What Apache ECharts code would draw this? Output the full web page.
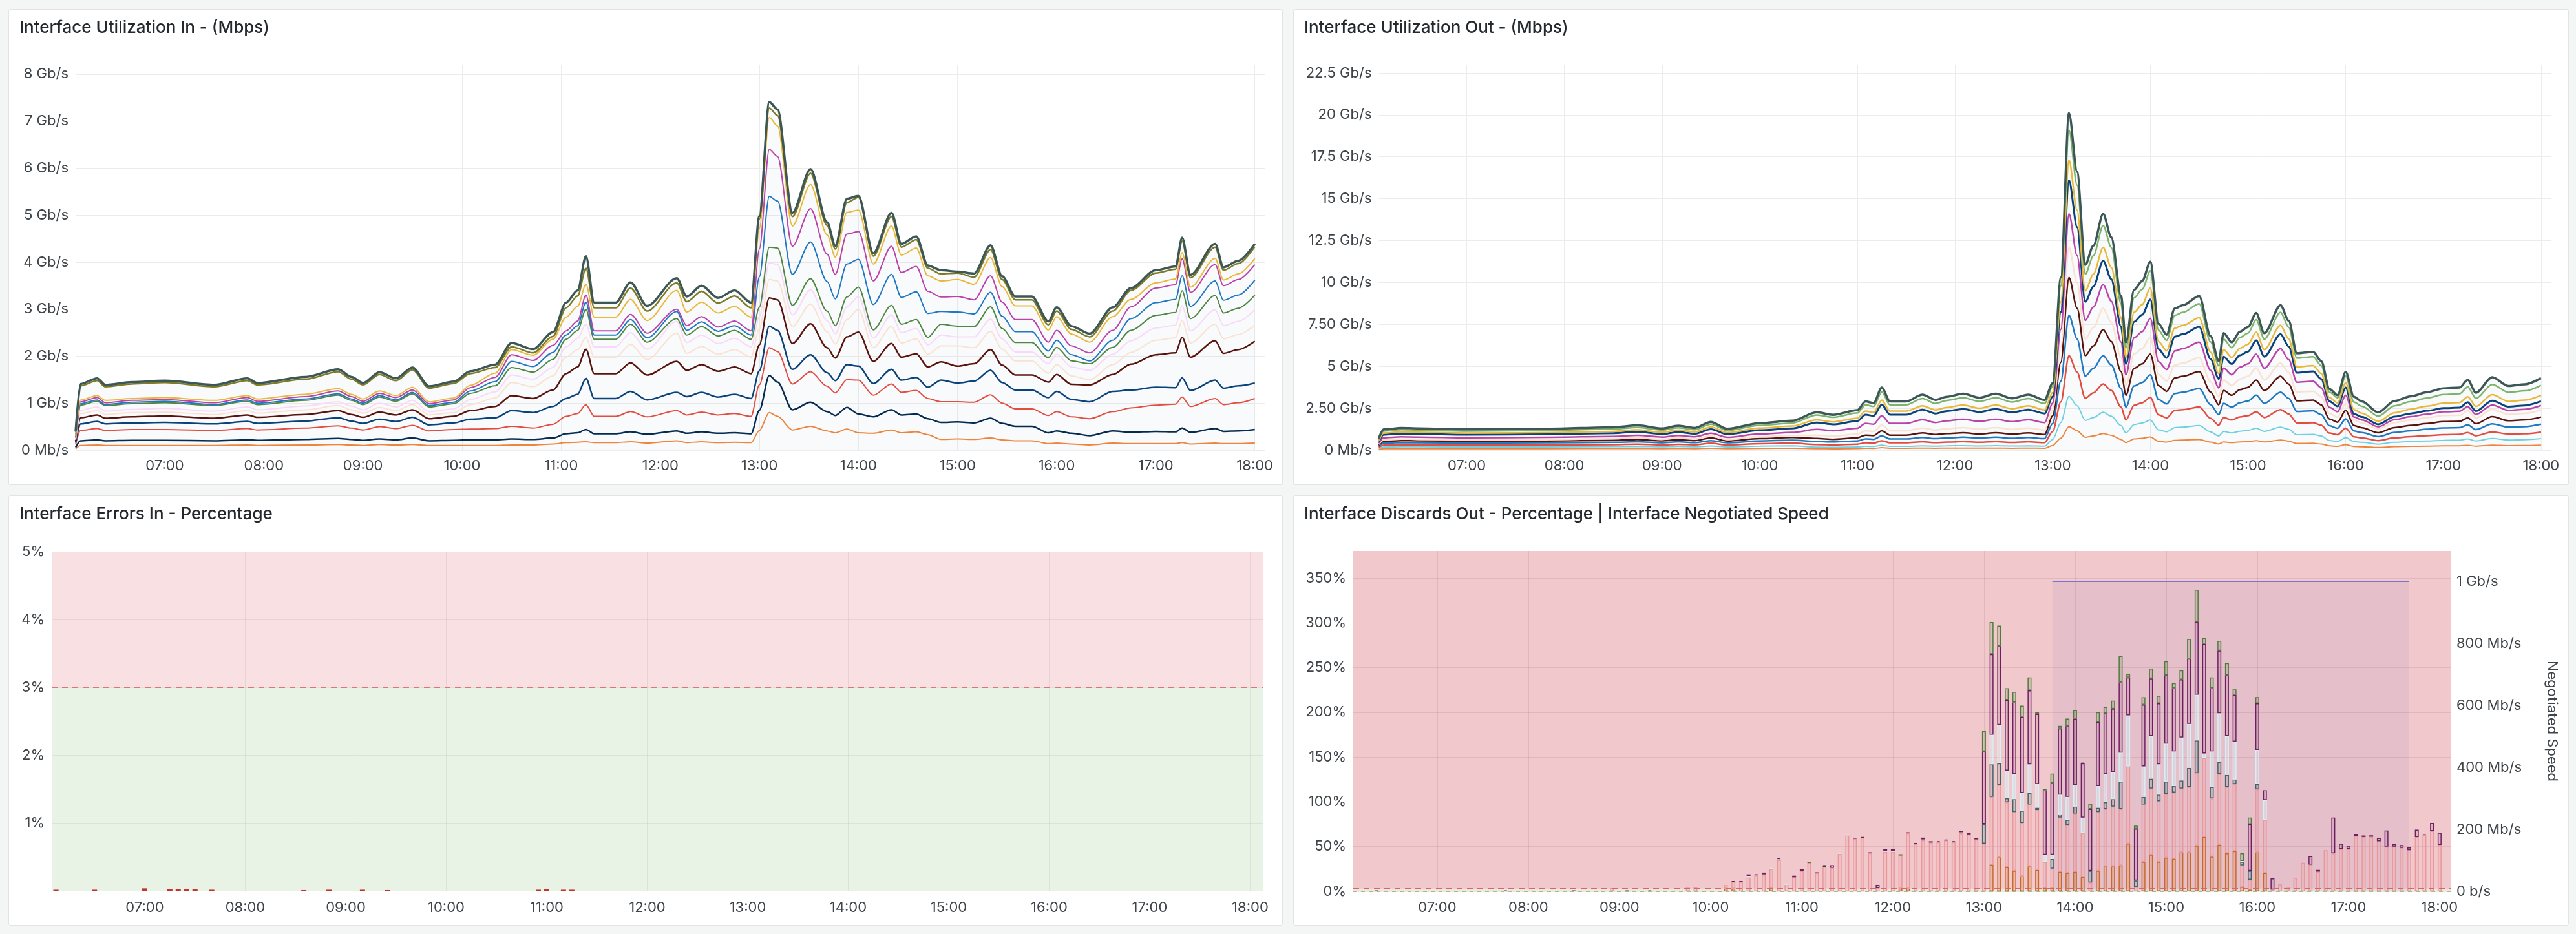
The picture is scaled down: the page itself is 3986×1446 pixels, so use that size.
<!DOCTYPE html>
<html>
<head>
<meta charset="utf-8">
<script src="https://cdn.jsdelivr.net/npm/echarts@6/dist/echarts.min.js"></script>
<style>
  html, body { margin: 0; padding: 0; background: #f4f5f5; width: 3986px; height: 1446px; overflow: hidden; font-family: Inter, "Noto Sans", sans-serif; }
  .panel { position: absolute; background: #fff; border: 1px solid #e1e3e6; border-radius: 3px; box-sizing: border-box; }
  .title { position: absolute; left: 16px; top: 11px; font-size: 26px; font-weight: 500; color: #24292e; line-height: 32px; white-space: nowrap; }
  .chart { position: absolute; left: 0; top: 0; width: 100%; height: 100%; }
</style>
</head>
<body>
<div class="panel" style="left:13px;top:14px;width:1972px;height:737px">
  <div class="chart" id="chartIn"></div>
  <div class="title">Interface Utilization In - (Mbps)</div>
</div>
<div class="panel" style="left:2001px;top:14px;width:1974px;height:737px">
  <div class="chart" id="chartOut"></div>
  <div class="title">Interface Utilization Out - (Mbps)</div>
</div>
<div class="panel" style="left:13px;top:767px;width:1972px;height:666px">
  <div class="chart" id="chartErr"></div>
  <div class="title">Interface Errors In - Percentage</div>
</div>
<div class="panel" style="left:2001px;top:767px;width:1974px;height:666px">
  <div class="chart" id="chartDisc"></div>
  <div class="title">Interface Discards Out - Percentage | Interface Negotiated Speed</div>
</div>
<script>
// ---- Interface Utilization In (Gb/s, stacked levels as drawn) ----
const inTimes = ['06:06','06:09','06:19','06:24','06:40','07:00','07:30','07:50','07:56','08:25',
  '08:45','08:53','09:00','09:10','09:20','09:30','09:40','09:55','10:05','10:20',
  '10:30','10:43','10:55','11:03','11:10','11:15','11:20','11:33','11:42','11:52',
  '12:10','12:16','12:25','12:35','12:45','12:55','13:00','13:06','13:11','13:20',
  '13:31','13:41','13:46','13:53','14:00','14:09','14:20','14:26','14:35','14:42',
  '14:50','15:00','15:10','15:20','15:27','15:35','15:45','15:55','16:00','16:09',
  '16:20','16:34','16:45','17:00','17:12','17:16','17:21','17:36','17:41','17:50',
  '18:00'];
const inA = [.40,1.41,1.53,1.39,1.45,1.48,1.39,1.53,1.43,1.56,
  1.72,1.56,1.43,1.66,1.53,1.76,1.36,1.46,1.68,1.82,
  2.28,2.15,2.51,3.14,3.40,4.13,3.14,3.14,3.57,3.07,
  3.66,3.27,3.50,3.24,3.40,3.14,4.98,7.41,7.25,5.05,
  5.98,4.85,4.35,5.35,5.41,4.19,5.05,4.39,4.55,3.93,
  3.83,3.80,3.76,4.36,3.70,3.27,3.27,2.74,3.04,2.64,
  2.48,3.04,3.45,3.83,3.91,4.52,3.73,4.39,3.89,4.03,
  4.39];
const inB = [.39,1.37,1.48,1.35,1.41,1.44,1.35,1.48,1.39,1.51,
  1.67,1.51,1.39,1.61,1.48,1.71,1.32,1.42,1.63,1.76,
  2.20,2.07,2.42,3.03,3.28,3.87,3.03,3.03,3.45,2.96,
  3.56,3.16,3.38,3.13,3.28,3.03,4.91,7.28,7.12,4.97,
  5.89,4.78,4.28,5.27,5.38,4.13,4.97,4.32,4.48,3.87,
  3.75,3.77,3.68,4.27,3.63,3.20,3.20,2.67,2.96,2.57,
  2.41,2.96,3.40,3.77,3.85,4.45,3.67,4.32,3.83,3.97,
  4.33];
const inC = [.30,1.07,1.16,1.06,1.10,1.12,1.06,1.16,1.09,1.19,
  1.31,1.19,1.09,1.26,1.16,1.34,1.03,1.11,1.38,1.64,
  2.14,2.02,2.36,2.83,3.06,3.53,2.83,2.83,3.21,2.76,
  3.40,2.94,3.15,2.92,3.06,2.83,4.71,7.08,6.90,4.77,
  5.65,4.58,4.11,5.06,5.11,3.96,4.77,4.15,4.30,3.71,
  3.60,3.63,3.53,4.10,3.48,3.07,3.07,2.56,2.84,2.47,
  2.30,2.84,3.21,3.56,3.64,4.20,3.47,4.08,3.62,3.75,
  4.08];
const inD = [.29,1.03,1.12,1.01,1.06,1.08,1.01,1.12,1.04,1.14,
  1.26,1.14,1.04,1.21,1.12,1.28,.99,1.07,1.33,1.55,
  2.03,1.91,2.23,2.54,2.75,3.30,2.54,2.54,2.89,2.49,
  3.00,2.65,2.84,2.62,2.75,2.54,4.28,6.40,6.25,4.34,
  5.14,4.17,3.74,4.60,4.65,3.60,4.34,3.78,3.91,3.38,
  3.26,3.27,3.20,3.71,3.15,2.78,2.78,2.30,2.55,2.22,
  2.07,2.55,3.05,3.45,3.52,4.07,3.36,3.95,3.50,3.63,
  3.95];
const inE = [.28,.99,1.07,.97,1.02,1.04,.97,1.07,1.00,1.09,
  1.20,1.09,1.00,1.16,1.07,1.23,.95,1.02,1.26,1.46,
  1.89,1.78,2.08,2.45,2.65,3.15,2.45,2.45,2.78,2.39,
  2.95,2.55,2.73,2.53,2.65,2.45,3.69,5.40,5.30,3.74,
  4.43,3.59,3.22,3.96,4.06,3.10,3.74,3.25,3.37,2.91,
  2.95,2.94,2.90,3.36,2.85,2.52,2.52,2.11,2.34,2.03,
  1.90,2.34,2.80,3.14,3.21,3.71,3.06,3.60,3.19,3.30,
  3.62];
const inG = [.27,.96,1.04,.95,.99,1.01,.95,1.04,.97,1.06,
  1.17,1.06,.97,1.13,1.04,1.20,.92,.99,1.21,1.37,
  1.76,1.66,1.93,2.36,2.55,3.00,2.36,2.36,2.68,2.30,
  2.80,2.45,2.63,2.43,2.55,2.36,3.04,4.32,4.30,3.08,
  3.65,2.96,2.65,3.26,3.47,2.56,3.08,2.68,2.78,2.40,
  2.68,2.64,2.63,3.05,2.59,2.29,2.29,1.97,2.19,1.90,
  1.84,2.19,2.55,2.87,2.93,3.39,2.80,3.29,2.92,3.02,
  3.30];
const inH = [.24,.85,.92,.83,.87,.89,.83,.92,.86,.94,
  1.03,.94,.86,1.00,.92,1.06,.82,.88,1.08,1.24,
  1.60,1.51,1.76,2.20,2.38,2.68,2.20,2.20,2.50,2.15,
  2.74,2.29,2.45,2.27,2.38,2.20,2.84,3.99,3.95,2.88,
  3.41,2.76,2.48,3.05,3.27,2.39,2.88,2.50,2.59,2.24,
  2.45,2.41,2.41,2.79,2.37,2.09,2.09,1.84,2.04,1.77,
  1.70,2.04,2.33,2.60,2.66,3.07,2.54,2.99,2.65,2.74,
  2.99];
const inI = [.22,.78,.84,.76,.80,.81,.76,.84,.79,.86,
  .95,.86,.79,.91,.84,.97,.75,.80,.97,1.11,
  1.44,1.35,1.58,1.98,2.14,2.40,1.98,1.98,2.25,1.93,
  2.49,2.06,2.21,2.04,2.14,1.98,2.59,3.63,3.60,2.63,
  3.11,2.52,2.26,2.78,3.00,2.18,2.63,2.28,2.37,2.04,
  2.22,2.22,2.18,2.53,2.15,1.90,1.90,1.64,1.82,1.58,
  1.50,1.82,2.08,2.34,2.39,2.76,2.28,2.68,2.37,2.46,
  2.66];
const inK = [.20,.69,.75,.68,.71,.73,.68,.75,.70,.76,
  .84,.76,.70,.81,.75,.86,.67,.72,.84,.93,
  1.16,1.10,1.28,1.63,1.77,2.15,1.63,1.63,1.86,1.60,
  1.89,1.70,1.82,1.68,1.77,1.63,2.24,3.24,3.20,2.27,
  2.69,2.18,1.96,2.41,2.51,1.89,2.27,1.98,2.05,1.77,
  1.88,1.79,1.84,2.14,1.81,1.60,1.60,1.45,1.61,1.40,
  1.39,1.61,1.83,2.03,2.07,2.40,1.98,2.33,2.06,2.14,
  2.32];
const inM = [.16,.56,.61,.56,.58,.59,.56,.61,.57,.62,
  .69,.62,.57,.66,.61,.70,.54,.58,.66,.69,
  .84,.80,.93,1.10,1.19,1.53,1.10,1.10,1.25,1.07,
  1.23,1.14,1.23,1.13,1.19,1.10,1.69,2.64,2.55,1.72,
  2.03,1.65,1.48,1.82,1.79,1.42,1.72,1.49,1.55,1.34,
  1.49,1.43,1.47,1.70,1.44,1.28,1.28,1.12,1.25,1.08,
  1.03,1.25,1.28,1.34,1.33,1.54,1.27,1.49,1.32,1.37,
  1.43];
const inN = [.12,.42,.46,.42,.44,.44,.42,.46,.43,.47,
  .52,.47,.43,.50,.46,.53,.41,.44,.45,.46,
  .51,.47,.55,.72,.78,.97,.72,.72,.82,.71,
  .84,.75,.81,.75,.78,.72,1.39,2.18,2.10,1.41,
  1.67,1.36,1.22,1.50,1.49,1.17,1.41,1.23,1.27,1.10,
  1.03,1.03,1.02,1.18,1.00,.88,.88,.74,.82,.71,
  .67,.82,.90,.96,.98,1.13,.93,1.10,.97,1.01,
  1.10];
const inO = [.06,.20,.22,.20,.21,.21,.20,.22,.21,.23,
  .25,.23,.21,.24,.22,.26,.20,.21,.22,.22,
  .24,.23,.26,.35,.37,.44,.35,.35,.39,.34,
  .41,.36,.39,.36,.37,.35,.85,1.59,1.45,.86,
  1.02,.82,.74,.91,.77,.71,.86,.75,.77,.67,
  .59,.60,.58,.68,.57,.51,.51,.37,.41,.36,
  .31,.41,.38,.40,.39,.47,.38,.46,.40,.41,
  .44];
const inQ = [.03,.10,.11,.10,.10,.10,.10,.11,.10,.11,
  .12,.11,.10,.12,.11,.12,.10,.10,.10,.10,
  .11,.11,.13,.16,.17,.18,.16,.16,.18,.15,
  .20,.16,.18,.16,.17,.16,.42,.80,.72,.43,
  .51,.41,.37,.45,.37,.36,.43,.37,.39,.33,
  .23,.24,.23,.26,.22,.20,.20,.14,.15,.13,
  .11,.15,.14,.14,.14,.16,.13,.15,.14,.14,
  .15];

// ---- Interface Utilization Out (Gb/s, stacked levels as drawn) ----
const outTimes = ['06:06','06:09','06:20','06:30','07:00','07:50','08:30','08:45','09:00','09:10',
  '09:20','09:30','09:40','10:00','10:20','10:35','10:45','11:00','11:05','11:10',
  '11:15','11:20','11:30','11:40','11:48','11:55','12:05','12:15','12:25','12:35',
  '12:45','12:55','13:00','13:05','13:10','13:15','13:20','13:25','13:31','13:36',
  '13:42','13:45','13:50','13:55','14:00','14:05','14:10','14:15','14:20','14:30',
  '14:37','14:42','14:45','14:50','14:55','15:00','15:05','15:10','15:20','15:25',
  '15:30','15:40','15:45','15:50','15:55','16:00','16:05','16:10','16:20','16:30',
  '16:40','16:50','17:00','17:10','17:15','17:20','17:30','17:40','17:50','18:00'];
const outA = [.70,1.24,1.33,1.30,1.24,1.28,1.37,1.48,1.30,1.46,
  1.33,1.69,1.28,1.61,1.76,2.26,2.11,2.39,2.91,2.81,
  3.74,2.91,2.91,3.31,3.00,3.19,3.37,3.13,3.37,3.09,
  3.31,3.00,4.00,10.3,20.1,16.6,11.06,12.2,14.1,12.7,
  9.2,6.43,9.57,10.1,11.24,7.54,6.89,8.46,8.65,9.2,
  6.8,5.31,6.98,6.43,7.07,7.35,8.19,6.98,8.65,7.72,
  5.78,5.87,5.31,3.65,3.28,4.67,3.19,2.91,2.26,2.94,
  3.22,3.46,3.69,3.74,4.20,3.43,4.35,3.83,3.93,4.30];
const outB = [.64,1.14,1.22,1.20,1.14,1.18,1.26,1.36,1.20,1.34,
  1.22,1.55,1.18,1.48,1.62,2.10,1.96,2.22,2.71,2.61,
  3.48,2.71,2.71,3.08,2.79,2.97,3.13,2.91,3.13,2.87,
  3.08,2.79,3.80,9.79,19.1,15.8,10.5,11.6,13.4,12.1,
  8.74,6.11,9.09,9.60,10.7,7.16,6.55,8.04,8.22,8.74,
  6.46,5.04,6.63,6.11,6.72,6.98,7.78,6.63,8.22,7.33,
  5.49,5.58,5.04,3.47,3.12,4.44,2.87,2.62,2.03,2.65,
  2.90,3.11,3.32,3.37,3.78,3.09,3.92,3.45,3.54,3.87];
const outC = [.57,1.02,1.09,1.07,1.02,1.05,1.12,1.21,1.07,1.20,
  1.09,1.39,1.05,1.32,1.44,1.81,1.69,1.91,2.33,2.25,
  2.99,2.33,2.33,2.65,2.40,2.55,2.70,2.50,2.70,2.47,
  2.65,2.40,3.44,8.86,17.3,14.3,9.51,10.5,12.1,10.9,
  7.91,5.53,8.23,8.69,9.67,6.48,5.93,7.28,7.44,7.91,
  5.85,4.57,6.00,5.53,6.08,6.32,7.04,6.00,7.44,6.64,
  4.97,5.05,4.57,3.14,2.82,4.02,2.42,2.21,1.72,2.23,
  2.45,2.63,2.80,2.84,3.19,2.61,3.31,2.91,2.99,3.27];
const outD = [.52,.92,.98,.96,.92,.95,1.01,1.10,.96,1.08,
  .98,1.25,.95,1.19,1.30,1.65,1.54,1.74,2.12,2.05,
  2.73,2.12,2.12,2.42,2.19,2.33,2.46,2.28,2.46,2.26,
  2.42,2.19,3.20,8.24,16.1,13.3,8.85,9.76,11.3,10.2,
  7.36,5.14,7.66,8.08,8.99,6.03,5.51,6.77,6.92,7.36,
  5.44,4.25,5.58,5.14,5.66,5.88,6.55,5.58,6.92,6.18,
  4.62,4.70,4.25,2.92,2.62,3.74,2.17,1.98,1.54,2.00,
  2.19,2.35,2.51,2.54,2.86,2.33,2.96,2.60,2.67,2.92];
const outE = [.42,.74,.80,.78,.74,.77,.82,.89,.78,.88,
  .80,1.01,.77,.97,1.06,1.24,1.16,1.31,1.60,1.55,
  2.06,1.60,1.60,1.82,1.65,1.75,1.85,1.72,1.85,1.70,
  1.82,1.65,2.80,7.21,14.1,11.6,7.74,8.54,9.87,8.89,
  6.44,4.50,6.70,7.07,7.87,5.28,4.82,5.92,6.06,6.44,
  4.76,3.72,4.89,4.50,4.95,5.15,5.73,4.89,6.06,5.40,
  4.05,4.11,3.72,2.56,2.30,3.27,1.98,1.80,1.40,1.82,
  2.00,2.15,2.29,2.32,2.60,2.13,2.70,2.37,2.44,2.67];
const outF = [.35,.62,.67,.65,.62,.64,.69,.74,.65,.73,
  .67,.85,.64,.81,.88,.90,.84,.96,1.16,1.12,
  1.50,1.16,1.16,1.32,1.20,1.28,1.35,1.25,1.35,1.24,
  1.32,1.20,2.40,6.18,12.1,9.96,6.64,7.32,8.46,7.62,
  5.52,3.86,5.74,6.06,6.74,4.52,4.13,5.08,5.19,5.52,
  4.08,3.19,4.19,3.86,4.24,4.41,4.91,4.19,5.19,4.63,
  3.47,3.52,3.19,2.19,1.97,2.80,1.79,1.63,1.27,1.65,
  1.80,1.94,2.07,2.09,2.35,1.92,2.44,2.14,2.20,2.41];
const outG = [.30,.53,.57,.56,.53,.55,.59,.64,.56,.63,
  .57,.73,.55,.69,.76,.70,.65,.74,.90,.87,
  1.16,.90,.90,1.03,.93,.99,1.04,.97,1.04,.96,
  1.03,.93,2.04,5.25,10.3,8.47,5.64,6.22,7.19,6.48,
  4.69,3.28,4.88,5.15,5.73,3.85,3.51,4.31,4.41,4.69,
  3.47,2.71,3.56,3.28,3.61,3.75,4.18,3.56,4.41,3.94,
  2.95,2.99,2.71,1.86,1.67,2.38,1.47,1.34,1.04,1.35,
  1.48,1.59,1.70,1.72,1.93,1.58,2.00,1.76,1.81,1.98];
const outH = [.24,.42,.45,.44,.42,.44,.47,.50,.44,.50,
  .45,.57,.44,.55,.60,.52,.49,.55,.67,.65,
  .86,.67,.67,.76,.69,.73,.78,.72,.78,.71,
  .76,.69,1.60,4.12,8.04,6.64,4.42,4.88,5.64,5.08,
  3.68,2.57,3.83,4.04,4.50,3.02,2.76,3.38,3.46,3.68,
  2.72,2.12,2.79,2.57,2.83,2.94,3.28,2.79,3.46,3.09,
  2.31,2.35,2.12,1.46,1.31,1.87,1.15,1.05,.81,1.06,
  1.16,1.25,1.33,1.35,1.51,1.23,1.57,1.38,1.41,1.55];
const outI = [.17,.30,.32,.31,.30,.31,.33,.36,.31,.35,
  .32,.41,.31,.39,.42,.34,.32,.36,.44,.42,
  .56,.44,.44,.50,.45,.48,.51,.47,.51,.46,
  .50,.45,1.12,2.88,5.63,4.65,3.10,3.42,3.95,3.56,
  2.58,1.80,2.68,2.83,3.15,2.11,1.93,2.37,2.42,2.58,
  1.90,1.49,1.95,1.80,1.98,2.06,2.29,1.95,2.42,2.16,
  1.62,1.64,1.49,1.02,.92,1.31,.80,.73,.57,.74,
  .81,.87,.92,.94,1.05,.86,1.09,.96,.98,1.08];
const outJ = [.11,.19,.20,.20,.19,.19,.21,.22,.20,.22,
  .20,.25,.19,.24,.26,.18,.17,.19,.23,.22,
  .30,.23,.23,.26,.24,.26,.27,.25,.27,.25,
  .26,.24,.64,1.65,3.22,2.66,1.77,1.95,2.26,2.03,
  1.47,1.03,1.53,1.62,1.80,1.21,1.10,1.35,1.38,1.47,
  1.09,.85,1.12,1.03,1.13,1.18,1.31,1.12,1.38,1.24,
  .92,.94,.85,.58,.52,.75,.51,.47,.36,.47,
  .52,.55,.59,.60,.67,.55,.70,.61,.63,.69];
const outK = [.05,.09,.09,.09,.09,.09,.10,.10,.09,.10,
  .09,.12,.09,.11,.12,.09,.08,.10,.12,.11,
  .15,.12,.12,.13,.12,.13,.13,.13,.13,.12,
  .13,.12,.28,.72,1.41,1.16,.77,.85,.99,.89,
  .64,.45,.67,.71,.79,.53,.48,.59,.61,.64,
  .48,.37,.49,.45,.49,.51,.57,.49,.61,.54,
  .40,.41,.37,.26,.23,.33,.22,.20,.16,.21,
  .23,.24,.26,.26,.29,.24,.30,.27,.28,.30];

// ---- Interface Errors In (%) ----
const errTimes = ['06:07','06:30','07:00','07:15','07:20','07:25','07:30','07:40','08:35','08:50','09:10','09:25','10:55','11:00','11:10','11:15'];
const errValues = [0.015,0.015,0.035,0.02,0.02,0.02,0.02,0.015,0.01,0.015,0.015,0.01,0.015,0.02,0.015,0.015];
const errThreshold = 3;

// ---- Interface Discards Out (%), stacked per 5 min ----
const barTimes = ['06:20','07:45','08:30','08:55','09:05','09:20','09:45','09:50',
  '10:10','10:15','10:20','10:25','10:30','10:35','10:40','10:45','10:50','10:55',
  '11:00','11:05','11:10','11:15','11:20','11:25','11:30','11:35','11:40','11:45','11:50','11:55',
  '12:00','12:05','12:10','12:15','12:20','12:25','12:30','12:35','12:40','12:45','12:50','12:55',
  '13:00','13:05','13:10','13:15','13:20','13:25','13:30','13:35','13:40','13:45','13:50','13:55',
  '14:00','14:05','14:10','14:15','14:20','14:25','14:30','14:35','14:40','14:45','14:50','14:55',
  '15:00','15:05','15:10','15:15','15:20','15:25','15:30','15:35','15:40','15:45','15:50','15:55',
  '16:00','16:05','16:10','16:15','16:20','16:25','16:30','16:35','16:40','16:45','16:50','16:55',
  '17:00','17:05','17:10','17:15','17:20','17:25','17:30','17:35','17:40','17:45','17:50','17:55',
  '18:00'];
const barOrange = [0,0,0,0,0,0,0,0,
  3,3,0,0,0,0,3.6,0,0,0,
  0,0,0,0,0,0,0,0,0,0,0,0,
  0,3,3,0,0,0,0,0,0,0,0,0,
  0,30,38,27,23,17,28,24,4,4,22,20.6,
  22,16,0,23,28,28,29,53.4,0,33,41,33,
  37.6,36.4,43.7,43.7,51,60.7,38.8,52,42.5,45,5,2,
  43.7,20.6,0,0,0,0,0,0,0,0,0,0,
  0,0,0,0,0,0,0,0,0,0,0,0,
  0];
const barPink = [0,0,0,3.6,0,0,5,4.8,
  4,7.8,10.8,15.6,18,19,21.4,35,7.2,15.6,
  22.8,31.7,20.4,27.6,26.4,42,62.5,59,60,42.8,3.6,44,
  44,37,62,53,57,54.6,55,57,55,65,63.6,58,
  53.4,75.6,81,72.5,65.6,59.5,69,67,29,21.5,60.5,53.4,
  65,49.5,10,65.6,64,66.7,63,86.2,5,64,74,67.7,
  71.4,74,71.3,72.8,81,88.3,65.2,79,74,75,24,11,
  70.3,59.4,2,7.8,5,15,32,30,22,46,42.5,47.3,
  47.3,62,60.7,61,56,50,50,48.5,46,60.7,63,67.5,
  52];
const barSlate = [0,0,0,0,0,0,0,0,
  0,0,0,0,0,0,0,0,0,0,
  0,0,0,0,0,0,0,0,0,0,0,0,
  0,0,0,0,0,0,0,0,0,0,0,0,
  22,36.4,24,4.5,14.4,13.5,13,2.4,0,10.5,3.5,6,
  7.7,0,13,4.8,7.5,8.3,30.6,0,7,8.6,11,7.3,
  13.6,7.3,9,21.5,36.7,0,12.5,13.4,13.5,5,4,10,
  6,0,0,0,0,0,0,0,0,0,0,0,
  0,0,0,0,0,0,0,0,0,0,0,0,
  0];
const barLightBlue = [0,0,0,0,0,0,0,0,
  0,0,0,1.7,0,0,0.6,1,0.8,0,
  0,0,0,0,0,1.3,1.2,0,0,0,0,1,
  1,0,0,0,1,0,0,0,0,1,0,0,
  0,33,43,31,28,20,32,26.6,8,5,22,25.6,
  24.3,17,0,24.3,31.5,30.5,32.4,57,0,34,47.5,34,
  42.4,38.8,48,49,51,5,40,54.6,43.5,42.5,1,0,
  38,22,0,0,0,0,0,0,0,0,0,0,
  0,0,0,0,0,0,0,0,0,0,0,0,
  0];
const barPurple = [1,1,1,0,1,1,0,0,
  0,0.5,0.5,1.7,1,2,0,0.8,0,1.9,
  2,0,0.6,0.7,2.9,0,0,0.8,0.6,0.7,3.6,2,
  2,0,1,1,2,1.4,1,0.8,1,1.5,1.5,1.2,
  81,90,88,79,80,85,82.5,78,72,80,74,79,
  74,60.5,69,71.3,68,70.5,78.5,42.4,58,69,64.5,68,
  76.5,70.5,64.7,73,81.3,122.7,70.5,70,68,52.2,0,52,
  52,11,12.5,0,0,0,0,9.3,2,0,40,6,
  3.7,2.3,1.7,1.6,3.5,18,2.7,3.2,3,8.3,0.8,9,
  13.5];
const barGreen = [0,0,0,0,0,0,0,0,
  0,0,0,0,0,0,0,0,0,0,
  0,1.3,0,1,0,0,0,0,0,0,0,0,
  0,1.5,0,0,0,0,0,0,0,0,0,0,
  23,36,23,13,12,12.5,14.5,2,1.5,10.5,3,8.5,
  9.7,0.7,6,11,7,9,29.5,3.7,3.5,8.3,11,8.5,
  15.5,5.5,10.3,22,36,6.1,12,11,13.5,6,8.5,7.5,
  7,0,0,0,0,0,0,0,0,0,0,0,
  0,0,0,0,0,0,0,0,0,0,0,0,
  0];
// Negotiated speed (Mb/s), right axis
const speedTimes = ['13:45','14:00','15:00','16:00','17:00','17:40'];
const speedValues = [1000,1000,1000,1000,1000,1000];
const discardThreshold = 3;

// ---------------------------------------------------------------
const FONT = 'Inter, "Noto Sans", sans-serif';
const LABEL = '#3f4449';
const GRID = '#ececec';
const DISC_MAX = 380.3, SPEED_MAX = 1098;

function T(s) {
  const p = s.split(':');
  return new Date(2024, 0, 15, +p[0], +p[1]).getTime();
}
const X_MIN = T('06:06'), X_MAX = T('18:06');
function pad(n) { return (n < 10 ? '0' : '') + n; }
function hourLabel(v) {
  const d = new Date(v);
  if (d.getMinutes() !== 0) return '';
  return pad(d.getHours()) + ':00';
}

function timeAxis(margin, gridColor) {
  return {
    type: 'time', min: X_MIN, max: X_MAX,
    minInterval: 3600000, maxInterval: 3600000, splitNumber: 12,
    axisLine: { show: false }, axisTick: { show: false },
    axisLabel: { formatter: hourLabel, color: LABEL, fontSize: 22, fontFamily: FONT, margin: margin },
    splitLine: { show: true, showMinLine: false, showMaxLine: false, lineStyle: { color: gridColor, width: 1 } }
  };
}

function valueAxis(max, interval, formatter, margin, gridColor, extra) {
  return Object.assign({
    type: 'value', min: 0, max: max, interval: interval,
    axisLine: { show: false }, axisTick: { show: false },
    axisLabel: { formatter: formatter, color: LABEL, fontSize: 22, fontFamily: FONT, margin: margin, showMaxLabel: false },
    splitLine: { show: true, showMaxLine: false, lineStyle: { color: gridColor, width: 1 } }
  }, extra || {});
}

function lineSeries(name, color, times, values, width) {
  return {
    name: name, type: 'line', smooth: 0.3, smoothMonotone: 'x',
    showSymbol: false, symbol: 'none', animation: false,
    data: times.map((t, i) => [T(t), values[i]]),
    lineStyle: { color: color, width: width || 2 },
    itemStyle: { color: color }
  };
}

function gbLabel(v) {
  if (v === 0) return '0 Mb/s';
  if (v < 10 && !Number.isInteger(v)) return v.toFixed(2) + ' Gb/s';
  return v + ' Gb/s';
}

// ---- chart 1: In ----
const inLines = [
  ['if-q', '#EF843C', inQ, 2], ['if-o', '#052B51', inO, 2.5], ['if-n', '#E24D42', inN, 2],
  ['if-m', '#0A437C', inM, 2.5], ['if-k', '#58140C', inK, 2.5], ['if-i', '#F9E2D2', inI, 2],
  ['if-h', '#F9D9F9', inH, 2], ['if-g', '#508642', inG, 2], ['if-e', '#1F78C1', inE, 2],
  ['if-d', '#BA43A9', inD, 2], ['if-c', '#EAB839', inC, 2], ['if-b', '#7d7a26', inB, 2.5],
  ['if-a', '#3d5757', inA, 3.5]
];
const inSeries = inLines.map(l => lineSeries(l[0], l[1], inTimes, l[2], l[3]));
inSeries[inSeries.length - 1].areaStyle = { color: 'rgba(47,87,94,0.04)' };
echarts.init(document.getElementById('chartIn')).setOption({
  animation: false,
  textStyle: { fontFamily: FONT },
  grid: { left: 103, top: 86, width: 1840, height: 596 },
  xAxis: timeAxis(13, GRID),
  yAxis: valueAxis(8.19, 1, gbLabel, 11, GRID),
  series: inSeries
});

// ---- chart 2: Out ----
const outLines = [
  ['if-k', '#EF843C', outK, 2], ['if-j', '#6ED0E0', outJ, 2], ['if-i', '#E24D42', outI, 2.5],
  ['if-h', '#1F78C1', outH, 2.5], ['if-g', '#58140C', outG, 2.5], ['if-f', '#F9E2D2', outF, 2.5],
  ['if-e', '#BA43A9', outE, 2.5], ['if-d', '#0A437C', outD, 3], ['if-c', '#EAB839', outC, 2.5],
  ['if-b', '#7EB26D', outB, 2.5], ['if-a', '#3d5757', outA, 3.5]
];
const outSeries = outLines.map(l => lineSeries(l[0], l[1], outTimes, l[2], l[3]));
outSeries[outSeries.length - 1].areaStyle = { color: 'rgba(47,87,94,0.04)' };
echarts.init(document.getElementById('chartOut')).setOption({
  animation: false,
  textStyle: { fontFamily: FONT },
  grid: { left: 131.5, top: 86, width: 1813.5, height: 596 },
  xAxis: timeAxis(13, GRID),
  yAxis: valueAxis(22.96, 2.5, gbLabel, 11, GRID),
  series: outSeries
});

// ---- chart 3: Errors In ----
echarts.init(document.getElementById('chartErr')).setOption({
  animation: false,
  textStyle: { fontFamily: FONT },
  grid: { left: 66, top: 86, width: 1874, height: 525 },
  xAxis: timeAxis(15, 'rgba(0,0,0,0.07)'),
  yAxis: valueAxis(5, 1, v => v + '%', 11, 'rgba(0,0,0,0.07)',
    { axisLabel: { formatter: v => v + '%', color: LABEL, fontSize: 22, fontFamily: FONT, margin: 11, showMinLabel: false } }),
  series: [{
    name: 'errors', type: 'bar', barWidth: 8,
    data: errTimes.map((t, i) => [T(t), errValues[i]]),
    itemStyle: { color: '#c4342c' },
    markArea: {
      silent: true,
      data: [
        [{ yAxis: 0, itemStyle: { color: 'rgba(80,160,60,0.13)' } }, { yAxis: errThreshold }],
        [{ yAxis: errThreshold, itemStyle: { color: 'rgba(215,60,80,0.16)' } }, { yAxis: 5 }]
      ]
    },
    markLine: {
      silent: true, symbol: 'none', label: { show: false },
      lineStyle: { color: '#e0727b', width: 2, type: [9, 7] },
      data: [{ yAxis: errThreshold }]
    }
  }]
});

// ---- chart 4: Discards Out | Negotiated speed ----
const barDefs = [
  ['orange', barOrange, '#c8692c', 'rgba(224,117,45,0.22)'],
  ['pink', barPink, '#e8979b', 'rgba(246,170,175,0.28)'],
  ['slate', barSlate, '#3e6467', 'rgba(47,87,94,0.10)'],
  ['light blue', barLightBlue, '#d6eef6', 'rgba(215,245,252,0.35)'],
  ['purple', barPurple, '#6d1f62', 'rgba(109,31,98,0.10)'],
  ['green', barGreen, '#4e7b3b', 'rgba(80,134,66,0.15)']
];
const discSeries = [{
  name: 'Negotiated Speed', type: 'line', yAxisIndex: 1, z: 1,
  showSymbol: false, symbol: 'none',
  data: speedTimes.map((t, i) => [T(t), speedValues[i]]),
  lineStyle: { color: '#7c72cf', width: 2 },
  areaStyle: { color: 'rgba(110,90,180,0.12)' },
  markArea: {
    silent: true,
    // green band below the threshold, expressed on the right axis scale
    data: [[{ yAxis: 0, itemStyle: { color: 'rgba(235,240,225,0.75)' } },
            { yAxis: discardThreshold * SPEED_MAX / DISC_MAX }]]
  }
}];
barDefs.forEach(b => {
  discSeries.push({
    name: b[0], type: 'bar', stack: 'discards', barWidth: 6, z: 2,
    data: barTimes.map((t, i) => [T(t), b[1][i] || null]),
    itemStyle: { color: b[3], borderColor: b[2], borderWidth: 1.5 }
  });
});
discSeries.push({
  name: 'threshold', type: 'line', data: [], z: 3,
  markLine: {
    silent: true, symbol: 'none', label: { show: false },
    data: [
      { yAxis: discardThreshold, lineStyle: { color: '#e0606e', width: 2, type: [9, 7] } },
      { yAxis: 0, lineStyle: { color: '#73bf69', width: 1.5, type: [6, 6] } }
    ]
  }
});
echarts.init(document.getElementById('chartDisc')).setOption({
  animation: false,
  textStyle: { fontFamily: FONT },
  grid: { left: 92, top: 85, width: 1698, height: 527, show: true, backgroundColor: '#f1c9cc', borderWidth: 0 },
  xAxis: timeAxis(14, 'rgba(120,50,60,0.12)'),
  yAxis: [
    valueAxis(DISC_MAX, 50, v => v + '%', 11, 'rgba(120,50,60,0.12)'),
    {
      type: 'value', min: 0, max: SPEED_MAX, interval: 200, position: 'right',
      axisLine: { show: false }, axisTick: { show: false }, splitLine: { show: false },
      axisLabel: {
        formatter: v => v === 0 ? '0 b/s' : (v === 1000 ? '1 Gb/s' : v + ' Mb/s'),
        color: LABEL, fontSize: 22, fontFamily: FONT, margin: 9, showMaxLabel: false
      },
      name: 'Negotiated Speed', nameLocation: 'middle', nameRotate: -90, nameGap: 146,
      nameTextStyle: { color: LABEL, fontSize: 22, fontFamily: FONT }
    }
  ],
  series: discSeries
});
</script>
</body>
</html>
